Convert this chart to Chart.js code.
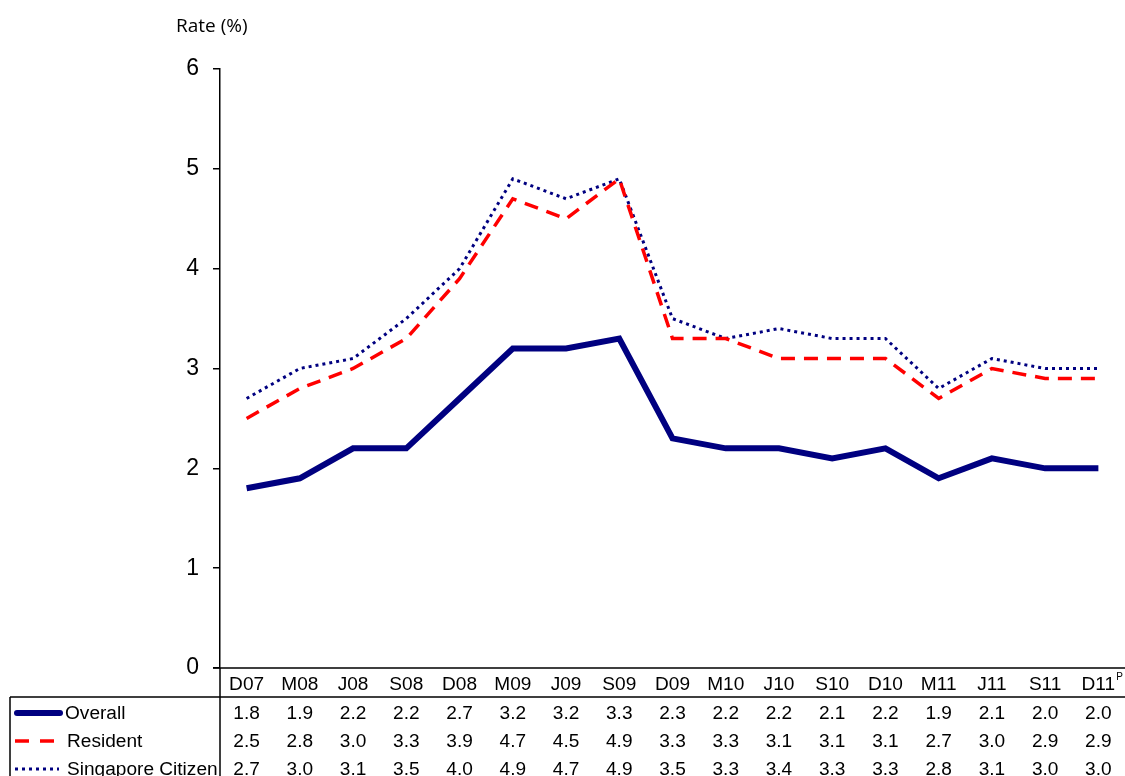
<!DOCTYPE html>
<html>
<head>
<meta charset="utf-8">
<script src="https://cdn.jsdelivr.net/npm/chart.js@4"></script>
<style>
  body { margin: 0; background: #fff; }
</style>
</head>
<body>
<canvas id="chart" width="1125" height="776"></canvas>
<script>
const categories = ["D07", "M08", "J08", "S08", "D08", "M09", "J09", "S09", "D09", "M10", "J10", "S10", "D10", "M11", "J11", "S11", "D11"];
const overall = [1.8, 1.9, 2.2, 2.2, 2.7, 3.2, 3.2, 3.3, 2.3, 2.2, 2.2, 2.1, 2.2, 1.9, 2.1, 2.0, 2.0];
const resident = [2.5, 2.8, 3.0, 3.3, 3.9, 4.7, 4.5, 4.9, 3.3, 3.3, 3.1, 3.1, 3.1, 2.7, 3.0, 2.9, 2.9];
const citizen = [2.7, 3.0, 3.1, 3.5, 4.0, 4.9, 4.7, 4.9, 3.5, 3.3, 3.4, 3.3, 3.3, 2.8, 3.1, 3.0, 3.0];
const seriesNames = ["Overall", "Resident", "Singapore Citizen"];
const yTicks = [0, 1, 2, 3, 4, 5, 6];
const lastMark = "P"; // D11 is provisional

const NAVY = "#000080";
const RED = "#ff0000";
const STRETCH = 1.06; // the original text is a bit wide

// text drawn slightly stretched sideways, anchored like fillText
function wideText(ctx, s, x, y, align) {
  const w = ctx.measureText(s).width * STRETCH;
  let left = x;
  if (align === "center") left = x - w / 2;
  if (align === "right") left = x - w;
  ctx.save();
  ctx.textAlign = "left";
  ctx.translate(left, y);
  ctx.scale(STRETCH, 1);
  ctx.fillText(s, 0, 0);
  ctx.restore();
  return w;
}

// draws the data table under the plot (categories, values, legend keys)
const tablePlugin = {
  id: "table",
  afterDraw(chart) {
    const ctx = chart.ctx;
    const x = chart.scales.x;
    const area = chart.chartArea;
    const rows = [overall, resident, citizen];
    const rowY = [713, 741, 769];

    ctx.save();
    ctx.strokeStyle = "#000";
    ctx.lineWidth = 1.5;
    ctx.beginPath();
    ctx.moveTo(area.left - 7, area.bottom);
    ctx.lineTo(1125, area.bottom);
    ctx.moveTo(10, 697);
    ctx.lineTo(1125, 697);
    ctx.moveTo(area.left, area.bottom);
    ctx.lineTo(area.left, 776);
    ctx.moveTo(10, 697);
    ctx.lineTo(10, 776);
    ctx.stroke();

    ctx.fillStyle = "#000";
    ctx.font = "18px 'Liberation Sans', Arial, sans-serif";
    ctx.textBaseline = "middle";
    categories.forEach((c, i) => {
      const px = x.getPixelForValue(i);
      const w = wideText(ctx, c, px, 685, "center");
      if (i === categories.length - 1) {
        ctx.save();
        ctx.font = "10px 'Liberation Sans', Arial, sans-serif";
        ctx.textAlign = "left";
        ctx.fillText(lastMark, px + w / 2 + 1, 677);
        ctx.restore();
      }
      rows.forEach((r, k) => {
        wideText(ctx, r[i].toFixed(1), px, rowY[k] + 1, "center");
      });
    });

    // legend keys
    ctx.lineCap = "round";
    ctx.strokeStyle = NAVY;
    ctx.lineWidth = 6;
    ctx.beginPath();
    ctx.moveTo(17, rowY[0]);
    ctx.lineTo(60, rowY[0]);
    ctx.stroke();

    ctx.lineCap = "butt";
    ctx.strokeStyle = RED;
    ctx.lineWidth = 3.5;
    ctx.setLineDash([14, 11]);
    ctx.beginPath();
    ctx.moveTo(15, rowY[1]);
    ctx.lineTo(56, rowY[1]);
    ctx.stroke();

    ctx.strokeStyle = NAVY;
    ctx.lineWidth = 3;
    ctx.setLineDash([3, 4]);
    ctx.beginPath();
    ctx.moveTo(15, rowY[2]);
    ctx.lineTo(59, rowY[2]);
    ctx.stroke();
    ctx.setLineDash([]);

    wideText(ctx, seriesNames[0], 65, rowY[0] + 1, "left");
    wideText(ctx, seriesNames[1], 67, rowY[1] + 1, "left");
    wideText(ctx, seriesNames[2], 67, rowY[2] + 1, "left");

    // axis title
    ctx.font = "19px 'Open Sans', 'Noto Sans', sans-serif";
    ctx.textAlign = "left";
    ctx.fillText("Rate (%)", 176, 27);
    ctx.restore();
  }
};

new Chart(document.getElementById("chart"), {
  type: "line",
  data: {
    labels: categories,
    datasets: [
      {
        label: seriesNames[0],
        data: overall,
        borderColor: NAVY,
        borderWidth: 6,
        pointRadius: 0
      },
      {
        label: seriesNames[1],
        data: resident,
        borderColor: RED,
        borderWidth: 3.5,
        borderDash: [14, 9],
        pointRadius: 0
      },
      {
        label: seriesNames[2],
        data: citizen,
        borderColor: NAVY,
        borderWidth: 3,
        borderDash: [3, 4],
        pointRadius: 0
      }
    ]
  },
  options: {
    responsive: false,
    animation: false,
    layout: { padding: { top: 69, bottom: 108, left: 0, right: 0 } },
    plugins: {
      legend: { display: false },
      tooltip: { enabled: false }
    },
    scales: {
      x: {
        display: false,
        offset: true
      },
      y: {
        min: 0,
        max: 6,
        afterFit(scale) { scale.width = 220; },
        afterBuildTicks(scale) { scale.ticks = yTicks.map(v => ({ value: v })); },
        border: { color: "#000", width: 1.5 },
        grid: { drawOnChartArea: false, color: "#000", tickLength: 7, lineWidth: 1.5 },
        ticks: {
          color: "#000",
          padding: 14,
          font: { size: 23, family: "'Liberation Sans', Arial, sans-serif" }
        }
      }
    }
  },
  plugins: [tablePlugin]
});
</script>
</body>
</html>
